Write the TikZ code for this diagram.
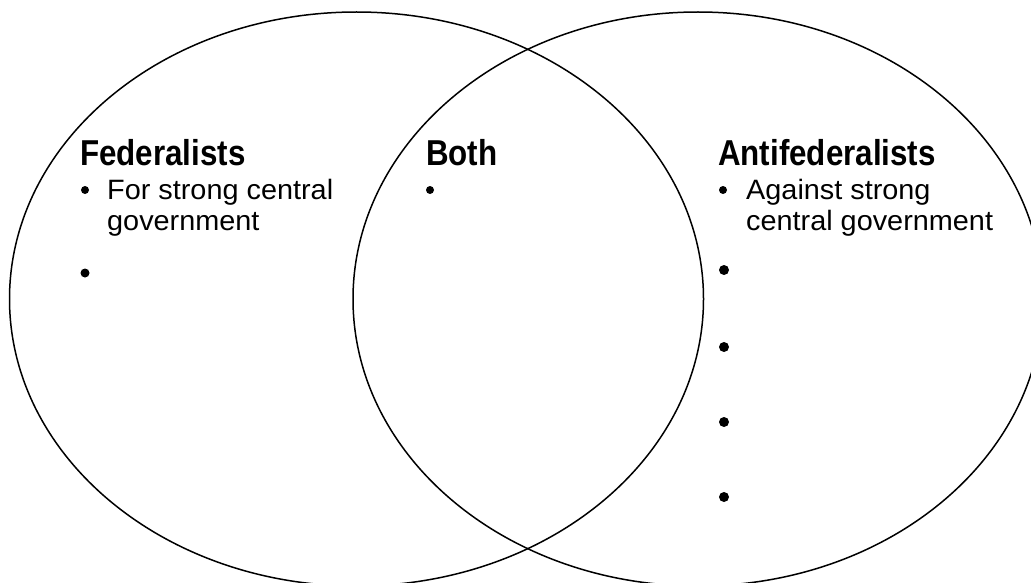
\documentclass[tikz,border=0pt]{standalone}
\usepackage{fontspec}
\setmainfont{Liberation Sans}
\newfontfamily\headfont[FakeStretch=0.87]{Liberation Sans}
\newfontfamily\bodyfont[FakeStretch=1.03]{Liberation Sans}
\begin{document}
\begin{tikzpicture}[x=1pt,y=-1pt,
  ring/.style={line width=1.5pt,draw=black},
  head/.style={anchor=base west,inner sep=0pt,font=\headfont\bfseries\fontsize{36}{40}\selectfont},
  body/.style={anchor=base west,inner sep=0pt,font=\bodyfont\fontsize{28}{30}\selectfont},
  dot/.style={circle,fill=black,inner sep=0pt,minimum size=#1},
  dot/.default=8pt]
\useasboundingbox (0,0) rectangle (1031,583);
\clip (0,0) rectangle (1031,583);
\fill[white] (0,0) rectangle (1031,583);
\draw[ring] (356.5,299) ellipse [x radius=347, y radius=287];
\draw[ring] (698,299) ellipse [x radius=345, y radius=287];
% Federalists
\node[head] (fedh) at (80,165) {Federalists};
\node[dot] (fedb1) at (85,190) {};
\node[body] (fedt1) at (107,200) {For strong central};
\node[body] (fedt2) at (107,230) {government};
\node[dot=9pt] (fedb2) at (85,273) {};
% Both
\node[head] (bothh) at (426,165) {Both};
\node[dot] (bothb1) at (430,190) {};
% Antifederalists
\node[head] (antih) at (718,165) {Antifederalists};
\node[dot] (antib1) at (723,190) {};
\node[body] (antit1) at (746,200) {Against strong};
\node[body] (antit2) at (746,230) {central government};
\node[dot=10pt] (antib2) at (724,270) {};
\node[dot=10pt] (antib3) at (724,347) {};
\node[dot=10pt] (antib4) at (724,422) {};
\node[dot=10pt] (antib5) at (724,497) {};
\end{tikzpicture}
\end{document}
